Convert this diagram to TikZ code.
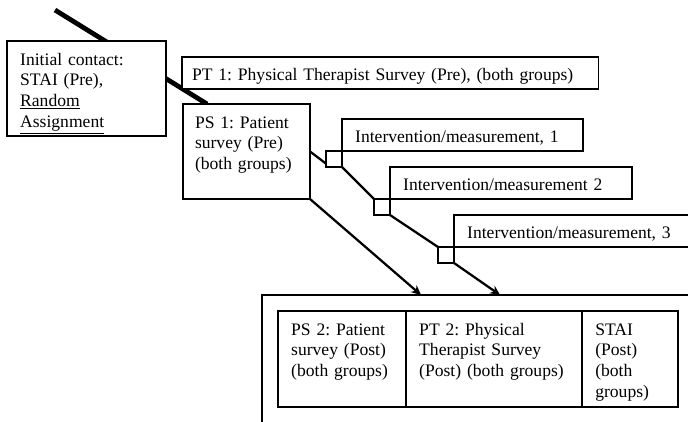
\documentclass[tikz,border=0pt]{standalone}
\usepackage{fontspec}
\setmainfont{Liberation Serif}
\usepackage{tikz}
\usetikzlibrary{arrows.meta, positioning, backgrounds}
\frenchspacing

\begin{document}
\begin{tikzpicture}[
            x = 0.025cm, % one unit = one pixel of the scan
            y = -0.025cm,
            > = {Stealth[length=7pt, width=6.5pt]}, % arrow head style
            font = \fontsize{12.5}{14.8}\selectfont
        ]

        \tikzstyle{box}=[
            draw = black,
            line width = 1.1pt,
            fill = white,
            align = left,
            anchor = north west,
            outer sep = 0pt,
            inner xsep = 0.33cm,
            inner ysep = 0.25cm,
            text height = 0.35cm
        ]
        \tikzstyle{tall}=[box, text depth = 1.525cm]
        \tikzstyle{cell}=[box, text depth = 1.55cm]
        \tikzstyle{bar}=[box, inner ysep = 0pt, minimum height = 0.8cm,
            text height = 0.42cm, text depth = 0.06cm]
        \tikzstyle{tick}=[draw, line width = 1.1pt, fill = white,
            minimum size = 0.4cm, inner sep = 0pt, outer sep = 0pt,
            anchor = north east]
        \tikzstyle{link}=[line width = 1.6pt]
        \tikzstyle{trunk}=[line width = 3.4pt]

        \useasboundingbox (0,0) rectangle (688,421);
        \clip (0,0) rectangle (688,421);

        \node[tall, text width = 3.315cm] (init) at (7,41)
            {Initial contact:\\ STAI (Pre),\\ \underline{Random}\\ \underline{Assignment}};
        \node[bar, text width = 9.915cm, inner xsep = 0.25cm] (pt1) at (182,57)
            {PT 1: Physical Therapist Survey (Pre), (both groups)};
        \node[tall, text width = 2.575cm, inner xsep = 0.3cm] (ps1) at (183,104)
            {PS 1: Patient\\ survey (Pre)\\ (both groups)};

        \node[bar, text width = 5.365cm] (int1) at (342,119) {Intervention/measurement, 1};
        \node[bar, text width = 5.39cm] (int2) at (390,167) {Intervention/measurement 2};
        \node[bar, text width = 6.84cm] (int3) at (454,215) {Intervention/measurement, 3};

        \node[tick] (sq1) at (int1.south west) {};
        \node[tick] (sq2) at (int2.south west) {};
        \node[tick] (sq3) at (int3.south west) {};

        % frame round the post measurements, runs off the page
        \node[draw, line width = 1.1pt, outer sep = 0pt, anchor = north west,
            minimum width = 12cm, minimum height = 6cm] (post) at (262,295) {};

        \node[cell, text width = 2.54cm] (ps2) at (278,311)
            {PS 2: Patient\\ survey (Post)\\ (both groups)};
        \node[cell, text width = 3.74cm, right = 0pt of ps2] (pt2)
            {PT 2: Physical\\ Therapist Survey\\ (Post) (both groups)};
        \node[cell, text width = 1.74cm, right = 0pt of pt2] (stai)
            {STAI\\ (Post)\\ (both\\ groups)};

        \coordinate (entry) at (55,10);
        \begin{scope}[on background layer]
            \draw[trunk] (entry) -- ([xshift = 0.6cm]ps1.north west);
        \end{scope}

        \draw[link] (ps1.east) -- (sq1.210);
        \draw[link] (sq1.south east) -- (sq2.north west);
        \draw[link] (sq2.south east) -- (sq3.north west);
        \draw[link, ->] (ps1.south east) -- ([xshift = 3.975cm]post.north west);
        \draw[link, ->] (sq3.south east) -- ([xshift = 5.95cm]post.north west);

        %\draw[red] (0,0) grid[step=50] (688,421);
    \end{tikzpicture}
\end{document}
